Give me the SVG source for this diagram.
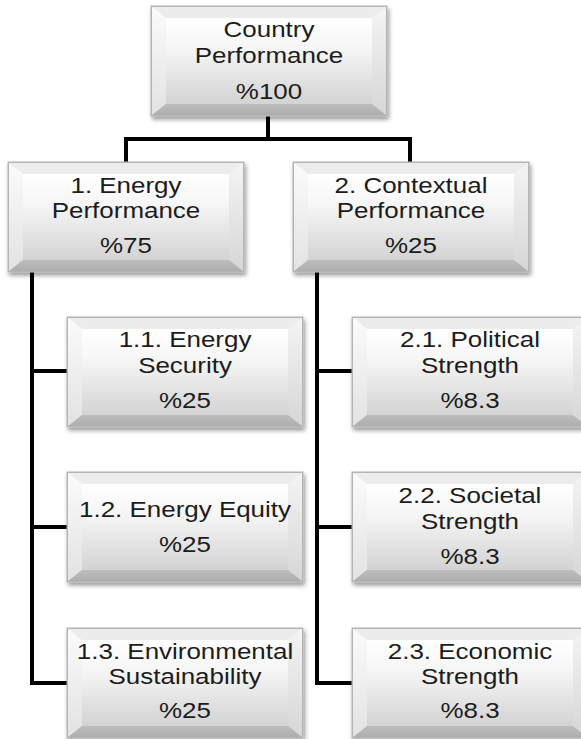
<svg xmlns="http://www.w3.org/2000/svg" xmlns:xlink="http://www.w3.org/1999/xlink" width="581" height="739" viewBox="0 0 581 739">
  <style>
    .lbl { font-family: "Liberation Sans", Arial, sans-serif; font-size: 22px; fill: #1c1c1c; text-anchor: middle; }
    .wire { fill: none; stroke: #000; stroke-width: 4; stroke-linejoin: miter; stroke-linecap: butt; }
  </style>
  <defs>
    <linearGradient id="gOuter" x1="0" y1="0" x2="0" y2="1">
      <stop offset="0" stop-color="#f2f2f2"/>
      <stop offset="1" stop-color="#c6c6c6"/>
    </linearGradient>
    <linearGradient id="gFace" x1="0" y1="0" x2="0" y2="1">
      <stop offset="0" stop-color="#ffffff"/>
      <stop offset="0.35" stop-color="#f6f6f6"/>
      <stop offset="1" stop-color="#d3d3d3"/>
    </linearGradient>
    <linearGradient id="gLeft" x1="0" y1="0" x2="0" y2="1">
      <stop offset="0" stop-color="#fbfbfb"/>
      <stop offset="1" stop-color="#e2e2e2"/>
    </linearGradient>
    <linearGradient id="gRight" x1="0" y1="0" x2="0" y2="1">
      <stop offset="0" stop-color="#f4f4f4"/>
      <stop offset="1" stop-color="#d6d6d6"/>
    </linearGradient>
    <linearGradient id="gBottom" x1="0" y1="0" x2="0" y2="1">
      <stop offset="0" stop-color="#bdbdbd"/>
      <stop offset="1" stop-color="#acacac"/>
    </linearGradient>
    <filter id="shadow" x="-10%" y="-10%" width="125%" height="130%">
      <feDropShadow dx="1.5" dy="3" stdDeviation="2" flood-color="#000" flood-opacity="0.4"/>
    </filter>
    <!-- bevelled box, 236 x 110 -->
    <g id="bevel">
      <rect x="0" y="0" width="236" height="110" fill="url(#gOuter)" stroke="#b8b8b8" stroke-width="1"/>
      <polygon points="0,0 236,0 221,12 15,12" fill="#ececec"/>
      <polygon points="0,0 15,12 15,98 0,110" fill="url(#gLeft)"/>
      <polygon points="236,0 236,110 221,98 221,12" fill="url(#gRight)"/>
      <polygon points="0,110 15,98 221,98 236,110" fill="url(#gBottom)"/>
      <rect x="15" y="12" width="206" height="86" fill="url(#gFace)"/>
      <rect x="0.5" y="0.5" width="235" height="109" fill="none" stroke="#b4b4b4" stroke-width="1"/>
    </g>
  </defs>

  <rect x="0" y="0" width="581" height="739" fill="#ffffff"/>

  <!-- connectors -->
  <g id="connectors">
    <path class="wire" d="M268,116 V139"/>
    <path class="wire" d="M126,162 V139 H410 V162"/>
    <path class="wire" d="M32,270 V683 H67"/>
    <path class="wire" d="M32,371 H67"/>
    <path class="wire" d="M32,527 H67"/>
    <path class="wire" d="M317,270 V683 H352"/>
    <path class="wire" d="M317,371 H352"/>
    <path class="wire" d="M317,527 H352"/>
  </g>

  <!-- root -->
  <g id="country" transform="translate(151,6)">
    <use xlink:href="#bevel" href="#bevel" filter="url(#shadow)"/>
    <text class="lbl" transform="translate(118 31) scale(1.18 1)">Country</text>
    <text class="lbl" transform="translate(118 57) scale(1.18 1)">Performance</text>
    <text class="lbl" transform="translate(118 93) scale(1.18 1)">%100</text>
  </g>

  <!-- level 1 -->
  <g id="energy-performance" transform="translate(8,162)">
    <use xlink:href="#bevel" href="#bevel" filter="url(#shadow)"/>
    <text class="lbl" transform="translate(118 31) scale(1.18 1)">1. Energy</text>
    <text class="lbl" transform="translate(118 56) scale(1.18 1)">Performance</text>
    <text class="lbl" transform="translate(118 91) scale(1.18 1)">%75</text>
  </g>

  <g id="contextual-performance" transform="translate(293,162)">
    <use xlink:href="#bevel" href="#bevel" filter="url(#shadow)"/>
    <text class="lbl" transform="translate(118 31) scale(1.18 1)">2. Contextual</text>
    <text class="lbl" transform="translate(118 56) scale(1.18 1)">Performance</text>
    <text class="lbl" transform="translate(118 91) scale(1.18 1)">%25</text>
  </g>

  <!-- level 2, energy -->
  <g id="energy-security" transform="translate(67,317)">
    <use xlink:href="#bevel" href="#bevel" filter="url(#shadow)"/>
    <text class="lbl" transform="translate(118 30) scale(1.18 1)">1.1. Energy</text>
    <text class="lbl" transform="translate(118 56) scale(1.18 1)">Security</text>
    <text class="lbl" transform="translate(118 91) scale(1.18 1)">%25</text>
  </g>

  <g id="energy-equity" transform="translate(67,472)">
    <use xlink:href="#bevel" href="#bevel" filter="url(#shadow)"/>
    <text class="lbl" transform="translate(118 45) scale(1.18 1)">1.2. Energy Equity</text>
    <text class="lbl" transform="translate(118 80) scale(1.18 1)">%25</text>
  </g>

  <g id="environmental-sustainability" transform="translate(67,628)">
    <use xlink:href="#bevel" href="#bevel" filter="url(#shadow)"/>
    <text class="lbl" transform="translate(118 31) scale(1.18 1)">1.3. Environmental</text>
    <text class="lbl" transform="translate(118 56) scale(1.18 1)">Sustainability</text>
    <text class="lbl" transform="translate(118 90) scale(1.18 1)">%25</text>
  </g>

  <!-- level 2, contextual -->
  <g id="political-strength" transform="translate(352,317)">
    <use xlink:href="#bevel" href="#bevel" filter="url(#shadow)"/>
    <text class="lbl" transform="translate(118 30) scale(1.18 1)">2.1. Political</text>
    <text class="lbl" transform="translate(118 56) scale(1.18 1)">Strength</text>
    <text class="lbl" transform="translate(118 91) scale(1.18 1)">%8.3</text>
  </g>

  <g id="societal-strength" transform="translate(352,472)">
    <use xlink:href="#bevel" href="#bevel" filter="url(#shadow)"/>
    <text class="lbl" transform="translate(118 31) scale(1.18 1)">2.2. Societal</text>
    <text class="lbl" transform="translate(118 57) scale(1.18 1)">Strength</text>
    <text class="lbl" transform="translate(118 92) scale(1.18 1)">%8.3</text>
  </g>

  <g id="economic-strength" transform="translate(352,628)">
    <use xlink:href="#bevel" href="#bevel" filter="url(#shadow)"/>
    <text class="lbl" transform="translate(118 31) scale(1.18 1)">2.3. Economic</text>
    <text class="lbl" transform="translate(118 56) scale(1.18 1)">Strength</text>
    <text class="lbl" transform="translate(118 90) scale(1.18 1)">%8.3</text>
  </g>
</svg>
